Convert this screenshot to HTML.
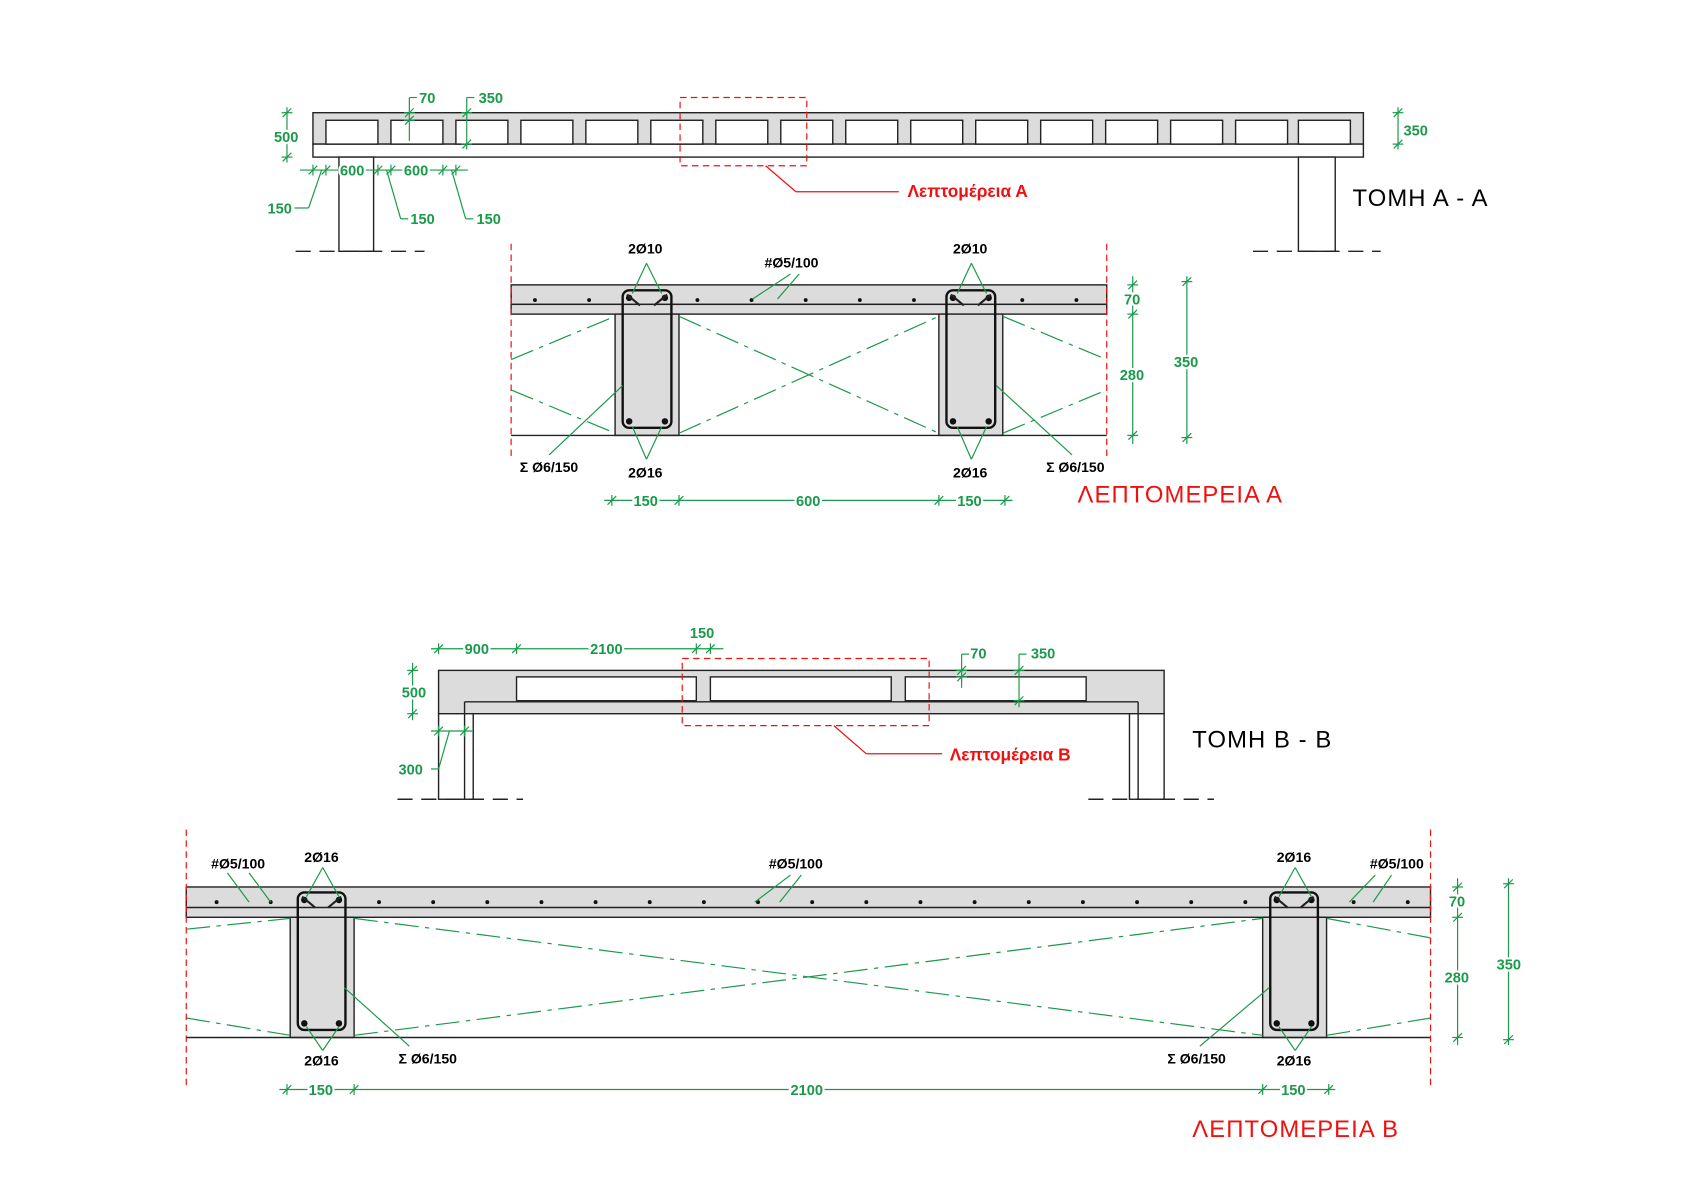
<!DOCTYPE html>
<html><head><meta charset="utf-8"><style>
html,body{margin:0;padding:0;background:#fff;}
svg{display:block;}
text{font-family:"Liberation Sans","DejaVu Sans",sans-serif;}
.g{fill:#1a9a4a;font-size:13.5px;font-weight:bold;stroke:#fff;stroke-width:4px;paint-order:stroke;}
.k{fill:#000;font-size:13px;font-weight:bold;}
.r{fill:#f01010;font-weight:bold;}
.rt{fill:#f01010;font-size:22px;letter-spacing:1px;}
.t{fill:#000;font-size:22px;letter-spacing:1px;}
</style></head><body>
<svg id="s" width="1698" height="1200" viewBox="0 0 1568 1108" xmlns="http://www.w3.org/2000/svg">
<g id="shapes" fill="none" stroke="#222" stroke-width="1.3"></g>
<g id="green" fill="none" stroke="#1a9a4a" stroke-width="1.1"></g>
<g id="red" fill="none" stroke="#f01010" stroke-width="1.1" stroke-dasharray="6,4"></g>
<g id="txt">
<text class="g" x="387" y="95">70</text>
<text class="g" x="442" y="95">350</text>
<text class="g" x="253" y="131">500</text>
<text class="g" x="1296" y="125">350</text>
<text class="g" x="314" y="162">600</text>
<text class="g" x="373" y="162">600</text>
<text class="g" x="247" y="197">150</text>
<text class="g" x="379" y="207">150</text>
<text class="g" x="440" y="207">150</text>
<text class="r" x="838" y="182" font-size="16">Λεπτομέρεια Α</text>
<text class="t" x="1249" y="190">ΤΟΜΗ  Α - Α</text>

<text class="k" x="580" y="234">2Ø10</text>
<text class="k" x="880" y="234">2Ø10</text>
<text class="k" x="706" y="247">#Ø5/100</text>
<text class="k" x="580" y="441">2Ø16</text>
<text class="k" x="880" y="441">2Ø16</text>
<text class="k" x="480" y="436">Σ Ø6/150</text>
<text class="k" x="966" y="436">Σ Ø6/150</text>
<text class="g" x="1038" y="281">70</text>
<text class="g" x="1034" y="351">280</text>
<text class="g" x="1084" y="339">350</text>
<text class="g" x="585" y="467">150</text>
<text class="g" x="735" y="467">600</text>
<text class="g" x="884" y="467">150</text>
<text class="rt" x="995" y="464">ΛΕΠΤΟΜΕΡΕΙΑ  Α</text>

<text class="g" x="429" y="604">900</text>
<text class="g" x="545" y="604">2100</text>
<text class="g" x="637" y="589">150</text>
<text class="g" x="896" y="608">70</text>
<text class="g" x="952" y="608">350</text>
<text class="g" x="371" y="644">500</text>
<text class="g" x="368" y="715">300</text>
<text class="r" x="877" y="702" font-size="16">Λεπτομέρεια Β</text>
<text class="t" x="1101" y="690">ΤΟΜΗ  Β - Β</text>

<text class="k" x="195" y="802">#Ø5/100</text>
<text class="k" x="281" y="796">2Ø16</text>
<text class="k" x="710" y="802">#Ø5/100</text>
<text class="k" x="1179" y="796">2Ø16</text>
<text class="k" x="1265" y="802">#Ø5/100</text>
<text class="k" x="281" y="984">2Ø16</text>
<text class="k" x="1179" y="984">2Ø16</text>
<text class="k" x="368" y="982">Σ Ø6/150</text>
<text class="k" x="1078" y="982">Σ Ø6/150</text>
<text class="g" x="1338" y="837">70</text>
<text class="g" x="1334" y="907">280</text>
<text class="g" x="1382" y="895">350</text>
<text class="g" x="285" y="1011">150</text>
<text class="g" x="730" y="1011">2100</text>
<text class="g" x="1183" y="1011">150</text>
<text class="rt" x="1101" y="1050">ΛΕΠΤΟΜΕΡΕΙΑ  Β</text>
</g>
<script>
var NS="http://www.w3.org/2000/svg";
function el(p,t,a){var e=document.createElementNS(NS,t);for(var k in a)e.setAttribute(k,a[k]);document.getElementById(p).appendChild(e);return e;}
function L(p,x1,y1,x2,y2,ex){var a={x1:x1,y1:y1,x2:x2,y2:y2};for(var k in ex)a[k]=ex[k];return el(p,'line',a);}
function R(p,x,y,w,h,ex){var a={x:x,y:y,width:w,height:h};for(var k in ex)a[k]=ex[k];return el(p,'rect',a);}
var S='shapes',G='green',D='red',grey={fill:'#dcdcdc'},wh={fill:'#fff'};
function tickH(x,y){L(G,x-4,y+4,x+4,y-4);L(G,x,y-5,x,y+5);}
function tickV(x,y){L(G,x-4,y+4,x+4,y-4);L(G,x-5,y,x+5,y);}
function dimH(y,xs,x0,x1){L(G,x0,y,x1,y);xs.forEach(function(x){tickH(x,y);});}
function dimV(x,ys,y0,y1){L(G,x,y0,x,y1);ys.forEach(function(y){tickV(x,y);});}
function gdash(x0,x1,y){L(S,x0,y,x1,y,{'stroke-dasharray':'14,8'});}

R(S,289,104,970,29,grey);
R(S,289,133,970,12,wh);
var vx=[301,361,421,481,541,601,661,721,781,841,901,961,1021,1081,1141,1199];
vx.forEach(function(x){R(S,x,111,48,22,wh);});
R(S,313,145,32,87,wh);R(S,1199,145,34,87,wh);
gdash(273,392,232);gdash(1157,1275,232);
R(D,628,90,117,63);
L(D,707,153,735,177,{'stroke-dasharray':'none'});L(D,735,177,830,177,{'stroke-dasharray':'none'});
dimV(265,[104,145],99,150);
dimV(1291,[104,133],99,138);
L(G,378,90,378,130);tickV(378,104);tickV(378,111);L(G,378,90,385,90);
L(G,431,90,431,138);tickV(431,104);tickV(431,133);L(G,431,90,438,90);
dimH(157,[289,301,349,361,409,421],277,432);
L(G,297,157,285,192);L(G,285,192,272,192);
L(G,357,157,370,202);L(G,370,202,377,202);
L(G,417,157,430,202);L(G,430,202,437,202);

L(D,472,225,472,425);L(D,1022,225,1022,425);
R(S,472,263,550,18,grey);R(S,472,281,550,9,grey);
function rib(x,y0,y1,w){R(S,x,y0,w,y1-y0,grey);}
rib(568,290,402,59);rib(867,290,402,59);
L(S,472,402,1022,402);
function stir(x,y0,w,h){R(S,x,y0,w,h,{fill:'none','stroke-width':2.2,rx:6,stroke:'#111'});
 el(S,'circle',{cx:x+6,cy:y0+7,r:3,fill:'#111',stroke:'none'});el(S,'circle',{cx:x+w-6,cy:y0+7,r:3,fill:'#111',stroke:'none'});
 el(S,'circle',{cx:x+6,cy:y0+h-6,r:3,fill:'#111',stroke:'none'});el(S,'circle',{cx:x+w-6,cy:y0+h-6,r:3,fill:'#111',stroke:'none'});
 L(S,x+4,y0+4,x+16,y0+14,{'stroke-width':2});L(S,x+w-4,y0+4,x+w-16,y0+14,{'stroke-width':2});}
stir(575,268,45,127);stir(874,268,45,127);
for(var x=494;x<1010;x+=50){if(x>570&&x<625||x>870&&x<925)continue;el(S,'circle',{cx:x,cy:277,r:1.8,fill:'#111',stroke:'none'});}
var dd={'stroke-dasharray':'22,6,4,6'};
L(G,472,332,568,292,dd);L(G,472,360,568,400,dd);
L(G,627,292,867,400,dd);L(G,627,400,867,292,dd);
L(G,926,292,1022,332,dd);L(G,926,400,1022,360,dd);
L(G,597,243,584,271);L(G,597,243,611,271);L(G,897,243,884,271);L(G,897,243,911,271);
L(G,597,424,584,394);L(G,597,424,611,394);L(G,897,424,884,394);L(G,897,424,911,394);
L(G,695,276,730,253);L(G,718,276,738,253);
L(G,507,420,575,356);L(G,990,420,920,356);
dimV(1046,[263,290,402],255,410);
dimV(1096,[260,404],255,410);
dimH(462,[565,627,867,928],558,935);

R(S,405,619,670,40,grey);
R(S,477,625,166,22,wh);R(S,656,625,167,22,wh);R(S,836,625,167,22,wh);
R(S,405,659,32,79,wh);L(S,429,648,429,738);
R(S,1043,659,32,79,wh);L(S,1051,648,1051,738);
L(S,429,648,1051,648);
gdash(367,483,738);gdash(1005,1121,738);
R(D,630,608,228,62);
L(D,770,670,800,696,{'stroke-dasharray':'none'});L(D,800,696,870,696,{'stroke-dasharray':'none'});
dimH(599,[405,477,643,656],398,668);
dimV(381,[619,659],612,665);
L(G,888,604,888,635);tickV(888,619);tickV(888,625);L(G,888,604,895,604);
L(G,941,604,941,653);tickV(941,619);tickV(941,647);L(G,941,604,948,604);
dimH(675,[405,429],398,436);L(G,415,675,405,710);L(G,405,710,398,710);

L(D,172,766,172,1005);L(D,1321,766,1321,1005);
R(S,172,819,1149,19,grey);R(S,172,838,1149,9,grey);
rib(268,847,958,59);rib(1166,847,958,59);
L(S,172,958,1321,958);
stir(275,824,44,127);stir(1173,824,44,127);
for(var x=200;x<1310;x+=50){if(x>270&&x<325||x>1168&&x<1222)continue;el(S,'circle',{cx:x,cy:833,r:1.8,fill:'#111',stroke:'none'});}
L(G,172,858,268,848,dd);L(G,172,940,268,956,dd);
L(G,327,848,1166,956,dd);L(G,327,956,1166,848,dd);
L(G,1225,848,1321,866,dd);L(G,1225,956,1321,940,dd);
L(G,298,801,283,828);L(G,298,801,313,828);L(G,1196,801,1181,828);L(G,1196,801,1211,828);
L(G,298,970,283,948);L(G,298,970,313,948);L(G,1196,970,1181,948);L(G,1196,970,1211,948);
L(G,210,806,230,833);L(G,230,806,250,833);
L(G,697,833,730,808);L(G,720,833,740,808);
L(G,1246,833,1270,808);L(G,1268,833,1285,808);
L(G,318,912,378,966);L(G,1172,912,1108,966);
dimV(1346,[819,847,958],811,965);
dimV(1393,[816,960],811,965);
dimH(1006,[265,327,1166,1227],258,1233);
document.getElementById('s').appendChild(document.getElementById('txt'));
</script>
</svg>
</body></html>
